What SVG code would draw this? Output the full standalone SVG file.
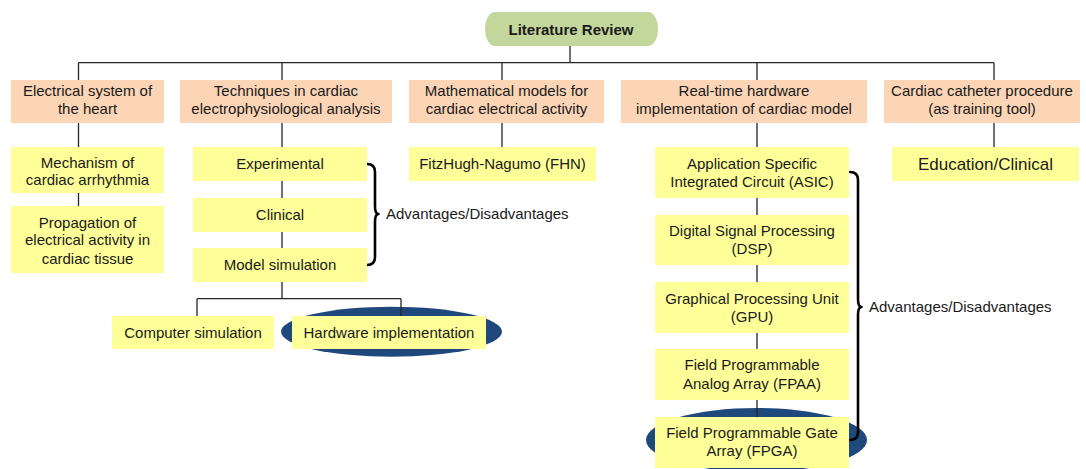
<svg xmlns="http://www.w3.org/2000/svg" width="1086" height="469" viewBox="0 0 1086 469">
<style>
text{font-family:"Liberation Sans",Arial,sans-serif;font-size:15px;fill:#1a1a1a;text-anchor:middle}
.l1{fill:#fbd5b6}
.l2{fill:#ffff99}
.hl{fill:#1f497d}
.c{stroke:#262626;stroke-width:1.3;fill:none}
.br{stroke:#000;stroke-width:2.6;fill:none;stroke-linejoin:round;stroke-linecap:round}
.big{font-size:17px}
.adv{text-anchor:start}
</style>
<rect width="1086" height="469" fill="#fff"/>
<g id="highlights">
<ellipse class="hl" cx="391.5" cy="331.7" rx="110.5" ry="25"/>
<ellipse class="hl" cx="756.5" cy="440" rx="110.5" ry="32"/>
</g>
<g id="connectors">
<path class="c" d="M570,46V62.7M78.5,62.7H994M78.5,62.7V206M282,62.7V298.7M502,62.7V147M757,62.7V417M994,62.7V147M197,298.7H401M197,298.7V316M401,298.7V316"/>
<path class="br" d="M367,164Q375,164 375,172V206Q375,214 378.5,214Q375,214 375,222V257Q375,265 367,265"/>
<path class="br" d="M850,172Q858,172 858,180V299Q858,307 861.5,307Q858,307 858,315V432Q858,440 850,440"/>
</g>
<g id="root">
<rect x="485" y="12" width="173" height="34" rx="10" ry="17" fill="#c3d69b"/>
<text x="571" y="34.5" style="font-weight:bold">Literature Review</text>
</g>
<g id="electrical">
<rect class="l1" x="11" y="80" width="153" height="43"/>
<text x="87.5" y="96">Electrical system of</text>
<text x="87.5" y="114">the heart</text>
</g>
<g id="techniques">
<rect class="l1" x="180" y="80" width="212" height="43"/>
<text x="286" y="96">Techniques in cardiac</text>
<text x="286" y="114">electrophysiological analysis</text>
</g>
<g id="mathematical">
<rect class="l1" x="409" y="80" width="195" height="43"/>
<text x="506.5" y="96">Mathematical models for</text>
<text x="506.5" y="114">cardiac electrical activity</text>
</g>
<g id="realtime">
<rect class="l1" x="621" y="80" width="246" height="43"/>
<text x="744" y="96">Real-time hardware</text>
<text x="744" y="114">implementation of cardiac model</text>
</g>
<g id="catheter">
<rect class="l1" x="884" y="80" width="196" height="43"/>
<text x="982" y="96">Cardiac catheter procedure</text>
<text x="982" y="114">(as training tool)</text>
</g>
<g id="mechanism">
<rect class="l2" x="11" y="147" width="153" height="46"/>
<text x="87.5" y="167.5">Mechanism of</text>
<text x="87.5" y="185">cardiac arrhythmia</text>
</g>
<g id="propagation">
<rect class="l2" x="11" y="206" width="153" height="67"/>
<text x="87.5" y="227.5">Propagation of</text>
<text x="87.5" y="245">electrical activity in</text>
<text x="87.5" y="263.5">cardiac tissue</text>
</g>
<g id="experimental">
<rect class="l2" x="193" y="147" width="174" height="34"/>
<text x="280" y="169">Experimental</text>
</g>
<g id="clinical">
<rect class="l2" x="193" y="198" width="174" height="34"/>
<text x="280" y="220">Clinical</text>
</g>
<g id="modelsim">
<rect class="l2" x="193" y="248" width="174" height="34"/>
<text x="280" y="270">Model simulation</text>
</g>
<text class="adv" x="386" y="219">Advantages/Disadvantages</text>
<g id="computersim">
<rect class="l2" x="112" y="316" width="162" height="33"/>
<text x="193" y="337.5">Computer simulation</text>
</g>
<g id="hardwareimpl">
<rect class="l2" x="292" y="316" width="194" height="33"/>
<text x="389" y="337.5">Hardware implementation</text>
</g>
<g id="fhn">
<rect class="l2" x="409" y="147" width="187" height="34"/>
<text x="502.5" y="169">FitzHugh-Nagumo (FHN)</text>
</g>
<g id="asic">
<rect class="l2" x="655" y="147" width="194" height="51"/>
<text x="752" y="168.5">Application Specific</text>
<text x="752" y="187">Integrated Circuit (ASIC)</text>
</g>
<g id="dsp">
<rect class="l2" x="655" y="215" width="194" height="50"/>
<text x="752" y="235.5">Digital Signal Processing</text>
<text x="752" y="253.5">(DSP)</text>
</g>
<g id="gpu">
<rect class="l2" x="655" y="282" width="194" height="51"/>
<text x="752" y="303.5">Graphical Processing Unit</text>
<text x="752" y="322">(GPU)</text>
</g>
<g id="fpaa">
<rect class="l2" x="655" y="349" width="194" height="51"/>
<text x="752" y="370">Field Programmable</text>
<text x="752" y="388.5">Analog Array (FPAA)</text>
</g>
<g id="fpga">
<rect class="l2" x="655" y="417" width="194" height="51"/>
<text x="752" y="438">Field Programmable Gate</text>
<text x="752" y="456">Array (FPGA)</text>
</g>
<text class="adv" x="869" y="312">Advantages/Disadvantages</text>
<g id="education">
<rect class="l2" x="892" y="147" width="187" height="34"/>
<text class="big" x="985.5" y="170">Education/Clinical</text>
</g>
</svg>
